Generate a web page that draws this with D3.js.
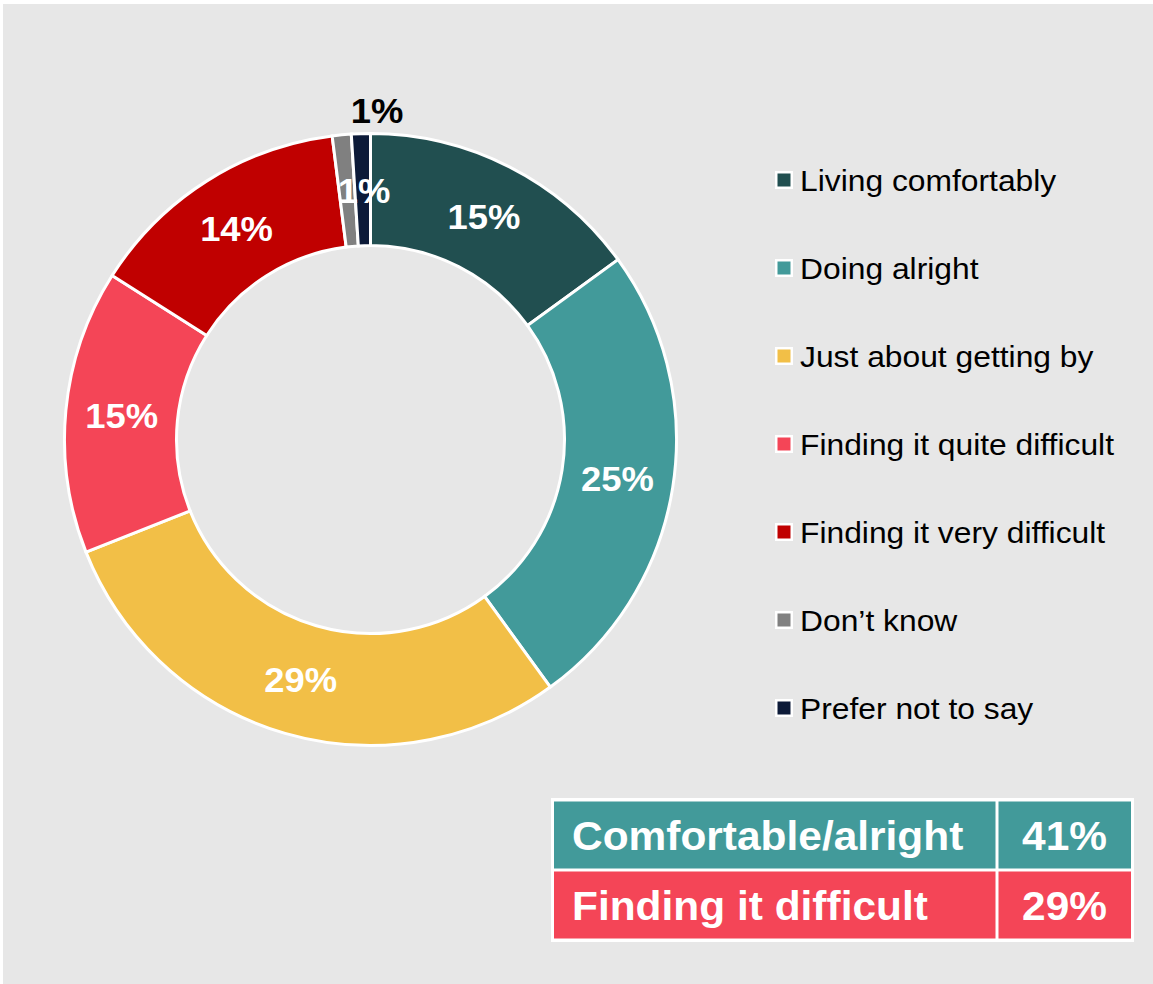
<!DOCTYPE html>
<html>
<head>
<meta charset="utf-8">
<script src="https://cdn.jsdelivr.net/npm/d3@7/dist/d3.min.js"></script>
<style>
  html, body { margin: 0; padding: 0; background: #ffffff; }
  svg { display: block; }
  text { font-family: "Liberation Sans", Arial, Helvetica, sans-serif; }
</style>
</head>
<body>
<svg id="chart" width="1153" height="984"></svg>
<script>
// Financial situation: share of respondents in each category (%)
const categories = [
  "Living comfortably",
  "Doing alright",
  "Just about getting by",
  "Finding it quite difficult",
  "Finding it very difficult",
  "Don\u2019t know",
  "Prefer not to say"
];
const values = [15, 25, 29, 15, 14, 1, 1];

// Summary table rows
const summaryLabels = ["Comfortable/alright", "Finding it difficult"];
const summaryValues = [41, 29];

// Palette
const sliceColors = ["#214f50", "#429a9a", "#f2bf47", "#f44557", "#c00000", "#808080", "#0c1a38"];
const summaryColors = ["#429a9a", "#f44557"];

const svg = d3.select("#chart");
const W = 1153, H = 984;

// panel background
svg.append("rect")
  .attr("x", 3).attr("y", 4)
  .attr("width", W - 3).attr("height", H - 4)
  .attr("fill", "#e7e7e7");

// ---- donut ----
const cx = 370.5, cy = 439.5;
const outerR = 306, innerR = 194;

const pie = d3.pie().sort(null).value(d => d.value)
  .startAngle(0).endAngle(2 * Math.PI);
const data = categories.map((c, i) => ({ name: c, value: values[i], color: sliceColors[i] }));
const arcs = pie(data);

const arc = d3.arc().innerRadius(innerR).outerRadius(outerR);
const outerLabelArc = d3.arc().innerRadius(329).outerRadius(329);

const g = svg.append("g").attr("transform", `translate(${cx},${cy})`);

g.selectAll("path.slice")
  .data(arcs)
  .join("path")
  .attr("class", "slice")
  .attr("d", arc)
  .attr("fill", d => d.data.color)
  .attr("stroke", "#ffffff")
  .attr("stroke-width", 3)
  .attr("stroke-linejoin", "miter");

// value labels: the last slice is labelled outside the ring
const lastIndex = arcs.length - 1;
g.selectAll("text.val")
  .data(arcs)
  .join("text")
  .attr("class", "val")
  .attr("transform", (d, i) => {
    const p = i === lastIndex ? outerLabelArc.centroid(d) : arc.centroid(d);
    const dx = d.data.value <= 1 ? 17 : 0;
    return `translate(${p[0] + dx},${p[1]}) scale(1.04,1)`;
  })
  .attr("text-anchor", "middle")
  .attr("dy", "0.355em")
  .attr("font-size", 35)
  .attr("font-weight", "bold")
  .attr("fill", (d, i) => i === lastIndex ? "#000000" : "#ffffff")
  .text(d => d.data.value + "%");

// ---- legend ----
const legendY = d3.scalePoint()
  .domain(categories)
  .range([180, 708]);

const legend = svg.append("g");
const items = legend.selectAll("g.item")
  .data(data)
  .join("g")
  .attr("class", "item")
  .attr("transform", d => `translate(784,${legendY(d.name)})`);

items.append("rect")
  .attr("x", -9).attr("y", -9)
  .attr("width", 18).attr("height", 18)
  .attr("fill", "#ffffff");
items.append("rect")
  .attr("x", -6.5).attr("y", -6.5)
  .attr("width", 13).attr("height", 13)
  .attr("fill", d => d.color);
items.append("text")
  .attr("transform", "translate(16,0) scale(1.06,1)")
  .attr("dy", "0.355em")
  .attr("font-size", 30)
  .attr("fill", "#000000")
  .text(d => d.name);

// ---- summary table ----
const tableX0 = 553, tableX1 = 1132, divX = 997;
const rowY = d3.scaleBand()
  .domain(summaryLabels)
  .range([800, 940]);

const table = svg.append("g");
table.append("rect")
  .attr("x", tableX0 - 2).attr("y", 798)
  .attr("width", tableX1 - tableX0 + 4).attr("height", 144)
  .attr("fill", "#ffffff");

const rows = table.selectAll("g.row")
  .data(summaryLabels.map((l, i) => ({ label: l, value: summaryValues[i], color: summaryColors[i] })))
  .join("g")
  .attr("class", "row")
  .attr("transform", d => `translate(0,${rowY(d.label)})`);

rows.append("rect")
  .attr("x", tableX0 + 1).attr("y", 1.5)
  .attr("width", divX - tableX0 - 2.5).attr("height", rowY.bandwidth() - 3)
  .attr("fill", d => d.color);
rows.append("rect")
  .attr("x", divX + 1.5).attr("y", 1.5)
  .attr("width", tableX1 - divX - 2.5).attr("height", rowY.bandwidth() - 3)
  .attr("fill", d => d.color);

rows.append("text")
  .attr("transform", `translate(572,${rowY.bandwidth() / 2}) scale(1.035,1)`)
  .attr("dy", "0.355em")
  .attr("font-size", 41)
  .attr("font-weight", "bold")
  .attr("fill", "#ffffff")
  .text(d => d.label);
rows.append("text")
  .attr("transform", `translate(${(divX + tableX1) / 2},${rowY.bandwidth() / 2}) scale(1.035,1)`)
  .attr("dy", "0.355em")
  .attr("text-anchor", "middle")
  .attr("font-size", 41)
  .attr("font-weight", "bold")
  .attr("fill", "#ffffff")
  .text(d => d.value + "%");
</script>
</body>
</html>
